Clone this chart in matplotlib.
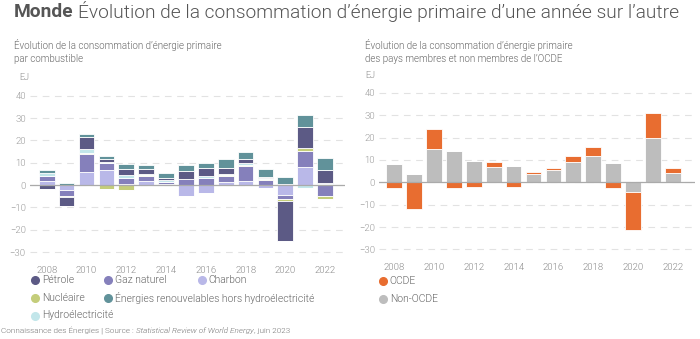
import numpy as np
import matplotlib.pyplot as plt
from matplotlib.lines import Line2D

plt.rcParams['font.family'] = ['Roboto', 'DejaVu Sans']

years = list(range(2008, 2023))

# variation annuelle par combustible (EJ)
charbon = [1.8, -2.3, 6.0, 6.7, 0.5, 1.9, 0.45, -4.8, -3.7, 1.3, 1.9, -1.2, -4.6, 7.9, 0.6]
gaz = [2.2, -2.4, 7.7, 3.2, 2.8, 2.3, 0.7, 2.5, 3.0, 2.9, 6.8, 2.3, -1.8, 7.5, -4.9]
nucleaire = [0.1, -0.5, 0.5, -1.6, -2.1, 0.2, 0.4, 0.4, 0.2, 0.3, 0.4, 0.5, -0.9, 1.0, -1.2]
hydro = [1.5, 0.1, 1.8, 0.2, 1.0, 0.6, 0.5, 0.0, 0.8, 0.3, 0.6, 0.3, 0.45, -1.2, 0.4]
petrole = [-1.6, -4.0, 5.3, 1.7, 2.7, 2.0, 1.2, 3.4, 3.7, 3.0, 1.9, 0.6, -17.6, 9.7, 5.7]
renouv = [1.3, 0.7, 1.5, 1.2, 2.3, 2.0, 2.1, 2.6, 2.3, 3.7, 3.3, 3.3, 3.3, 5.2, 5.2]

fuel_series = [charbon, gaz, nucleaire, hydro, petrole, renouv]
fuel_colors = ['#b9b8e8', '#8580bb', '#c4cd7a', '#c2e6ea', '#5c5a85', '#61929a']

# variation annuelle OCDE / non-OCDE (EJ)
non_ocde = [8.1, 3.5, 14.9, 14.1, 9.4, 6.9, 7.5, 3.8, 5.3, 9.0, 11.8, 8.4, -4.3, 20.0, 4.3]
ocde = [-2.6, -11.9, 8.7, -2.5, -2.1, 2.2, -2.2, 0.6, 1.2, 2.6, 3.8, -2.4, -16.9, 11.0, 2.3]
region_series = [non_ocde, ocde]
region_colors = ['#bdbdbd', '#e86d30']

W, H = 700, 339
fig = plt.figure(figsize=(W / 100, H / 100), dpi=100)

TXT = '#666666'
LIGHT = 300


def fx(px):
    return px / W


def fy(py):
    return 1 - py / H


def stacked(ax, series, colors):
    x = np.array(years)
    pos = np.zeros(len(x))
    neg = np.zeros(len(x))
    for vals, c in zip(series, colors):
        v = np.array(vals, dtype=float)
        p = np.where(v > 0, v, 0)
        n = np.where(v < 0, v, 0)
        ax.bar(x, p, bottom=pos, width=0.79, color=c, edgecolor='white', linewidth=0.6, zorder=3)
        ax.bar(x, n, bottom=neg, width=0.79, color=c, edgecolor='white', linewidth=0.6, zorder=3)
        pos += p
        neg += n


def style(ax, xlim):
    ax.set_xlim(*xlim)
    ax.set_ylim(-33, 43)
    ax.set_yticks([-30, -20, -10, 0, 10, 20, 30, 40])
    ax.set_xticks(years[::2])
    for s in ax.spines.values():
        s.set_visible(False)
    ax.tick_params(length=0, labelsize=6.8, colors='#999999', pad=3)
    for lbl in ax.get_xticklabels() + ax.get_yticklabels():
        lbl.set_fontweight(LIGHT)
    ax.tick_params(axis='x', pad=5, colors='#888888')
    ax.yaxis.grid(True, color='#e2e2e2', linestyle=(0, (6, 5)), linewidth=0.8, zorder=0)
    ax.axhline(0, color='#aaaaaa', linewidth=0.9, zorder=4)
    ax.set_axisbelow(True)


ax1 = fig.add_axes([fx(30), fy(258.7), fx(315), (258.7 - 89) / H])
stacked(ax1, fuel_series, fuel_colors)
style(ax1, (2007.16, 2023.0))

ax2 = fig.add_axes([fx(379.3), fy(256.2), fx(315.7), (256.2 - 86) / H])
stacked(ax2, region_series, region_colors)
style(ax2, (2007.25, 2023.12))

# titres
t1 = fig.text(fx(14), fy(12), 'Monde', fontsize=13.8, fontweight='bold', color='#555555', va='center')
r = fig.canvas.get_renderer()
bb = t1.get_window_extent(r)
fig.text(bb.x1 / W + fx(4), fy(12), 'Évolution de la consommation d’énergie primaire d’une année sur l’autre',
         fontsize=13.8, fontweight=LIGHT, color='#555555', va='center')

SUB = 7.0
fig.text(fx(14), fy(45), 'Évolution de la consommation d’énergie primaire', fontsize=SUB,
         fontweight=LIGHT, color=TXT, va='center')
fig.text(fx(14), fy(59), 'par combustible', fontsize=SUB, fontweight=LIGHT, color=TXT, va='center')
fig.text(fx(365), fy(45), 'Évolution de la consommation d’énergie primaire', fontsize=SUB,
         fontweight=LIGHT, color=TXT, va='center')
fig.text(fx(365), fy(59), 'des pays membres et non membres de l’OCDE', fontsize=SUB,
         fontweight=LIGHT, color=TXT, va='center')

fig.text(fx(19), fy(77), 'EJ', fontsize=6.5, fontweight=LIGHT, color='#888888', va='center')
fig.text(fx(365), fy(75), 'EJ', fontsize=6.5, fontweight=LIGHT, color='#888888', va='center')


def legend_item(px, py, color, label):
    fig.add_artist(Line2D([fx(px)], [fy(py)], marker='o', markersize=5.5, color=color,
                          linestyle='none', transform=fig.transFigure))
    fig.text(fx(px + 7), fy(py), label, fontsize=7.5, fontweight=LIGHT, color=TXT, va='center')


legend_item(35, 280, '#5c5a85', 'Pétrole')
legend_item(108.3, 280, '#8580bb', 'Gaz naturel')
legend_item(201.7, 280, '#b9b8e8', 'Charbon')
legend_item(35, 298, '#c4cd7a', 'Nucléaire')
legend_item(108.3, 298, '#61929a', 'Énergies renouvelables hors hydroélectricité')
legend_item(35, 315.5, '#c2e6ea', 'Hydroélectricité')

legend_item(382.7, 281, '#e86d30', 'OCDE')
legend_item(382.7, 299, '#bdbdbd', 'Non-OCDE')

# source en pied de page
parts = [('Connaissance des Énergies | Source : ', 'normal'),
         ('Statistical Review of World Energy', 'italic'),
         (', juin 2023', 'normal')]
x0 = 1.0
for txt, st in parts:
    t = fig.text(x0 / W, fy(331), txt, fontsize=5.85, fontstyle=st, fontweight=LIGHT,
                 color='#777777', va='center')
    x0 = t.get_window_extent(r).x1 + 0.5

fig.savefig('out.png', dpi=100)
